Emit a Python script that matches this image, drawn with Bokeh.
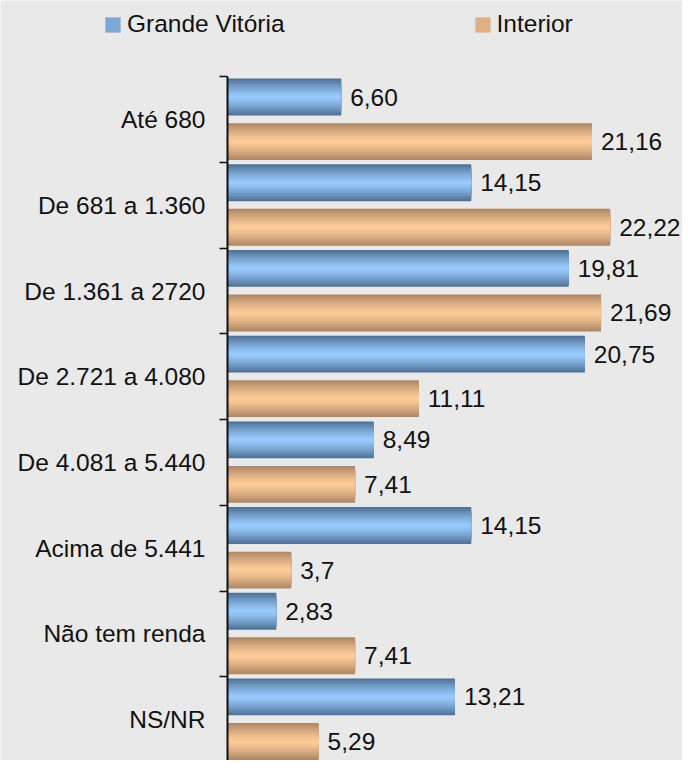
from bokeh.plotting import figure
from bokeh.models import (Range1d, FixedTicker, ColumnDataSource, LabelSet,
                          Legend, LegendItem)
from bokeh.core.properties import value
from bokeh.embed import file_html
from bokeh.resources import INLINE

categories = ["Até 680", "De 681 a 1.360", "De 1.361 a 2720", "De 2.721 a 4.080",
              "De 4.081 a 5.440", "Acima de 5.441", "Não tem renda", "NS/NR"]
grande_vitoria = [6.60, 14.15, 19.81, 20.75, 8.49, 14.15, 2.83, 13.21]
interior = [21.16, 22.22, 21.69, 11.11, 7.41, 3.7, 7.41, 5.29]
gv_labels = ["6,60", "14,15", "19,81", "20,75", "8,49", "14,15", "2,83", "13,21"]
in_labels = ["21,16", "22,22", "21,69", "11,11", "7,41", "3,7", "7,41", "5,29"]
series_names = ["Grande Vitória", "Interior"]

FONT = "Liberation Sans"
FS = "24.5px"
BG = "#e9e9e9"
n = len(categories)

blue_edge, blue_center = (80, 114, 150), (153, 204, 255)
orange_edge, orange_center = (174, 136, 102), (255, 204, 153)


def mix(c1, c2, t):
    return "#%02x%02x%02x" % tuple(int(round(a + (b - a) * t)) for a, b in zip(c1, c2))


p = figure(width=682, height=760, output_backend="svg", toolbar_location=None,
           x_range=Range1d(-13.18, 26.42), y_range=Range1d(7.977, -0.8915),
           min_border_left=0, min_border_right=0, min_border_top=0,
           min_border_bottom=0, background_fill_color=BG, border_fill_color=BG,
           outline_line_color=None)
p.xaxis.visible = False
p.xgrid.visible = False
p.ygrid.visible = False

H = 0.43
src_gv = ColumnDataSource(dict(y=[i + 0.235 for i in range(n)], v=grande_vitoria, t=gv_labels))
src_in = ColumnDataSource(dict(y=[i + 0.755 for i in range(n)], v=interior, t=in_labels))

N = 14
legend_r = {}
for src, edge, center, key in [(src_gv, blue_edge, blue_center, "gv"),
                               (src_in, orange_edge, orange_center, "in")]:
    for k in range(N):
        r = 1 - k / N
        col = mix(center, edge, r ** 1.3)
        rend = p.hbar(y="y", right="v", left=0, height=H * r, source=src,
                      fill_color=col, line_color=None)
        if k == N // 2:
            legend_r[key] = rend

for src in (src_gv, src_in):
    p.add_layout(LabelSet(x="v", y="y", text="t", source=src, x_offset=9,
                          text_baseline="middle", text_align="left",
                          text_font=value(FONT), text_font_size=FS,
                          text_color="#111111"))

ax = p.yaxis[0]
ax.fixed_location = 0
ax.bounds = (0, n)
ax.ticker = FixedTicker(ticks=[i + 0.5 for i in range(n)],
                        minor_ticks=[float(i) for i in range(n + 1)])
ax.major_label_overrides = {i + 0.5: categories[i] for i in range(n)}
ax.major_tick_out = 0
ax.major_tick_in = 0
ax.minor_tick_out = 8
ax.minor_tick_in = 0
ax.minor_tick_line_color = "#111111"
ax.minor_tick_line_width = 1.5
ax.axis_line_color = "#111111"
ax.axis_line_width = 2
ax.major_label_standoff = 14
ax.major_label_text_font = FONT
ax.major_label_text_font_size = FS
ax.major_label_text_color = "#111111"

legend = Legend(items=[LegendItem(label=series_names[0], renderers=[legend_r["gv"]]),
                       LegendItem(label=series_names[1], renderers=[legend_r["in"]])],
                orientation="horizontal", location=(103, 722),
                padding=0, margin=0, spacing=188, glyph_width=19, glyph_height=19,
                label_standoff=5, border_line_color=None, background_fill_alpha=0,
                label_text_font=FONT, label_text_font_size=FS,
                label_text_color="#111111")
p.add_layout(legend, "center")

open("out.html", "w").write(file_html(p, INLINE))
